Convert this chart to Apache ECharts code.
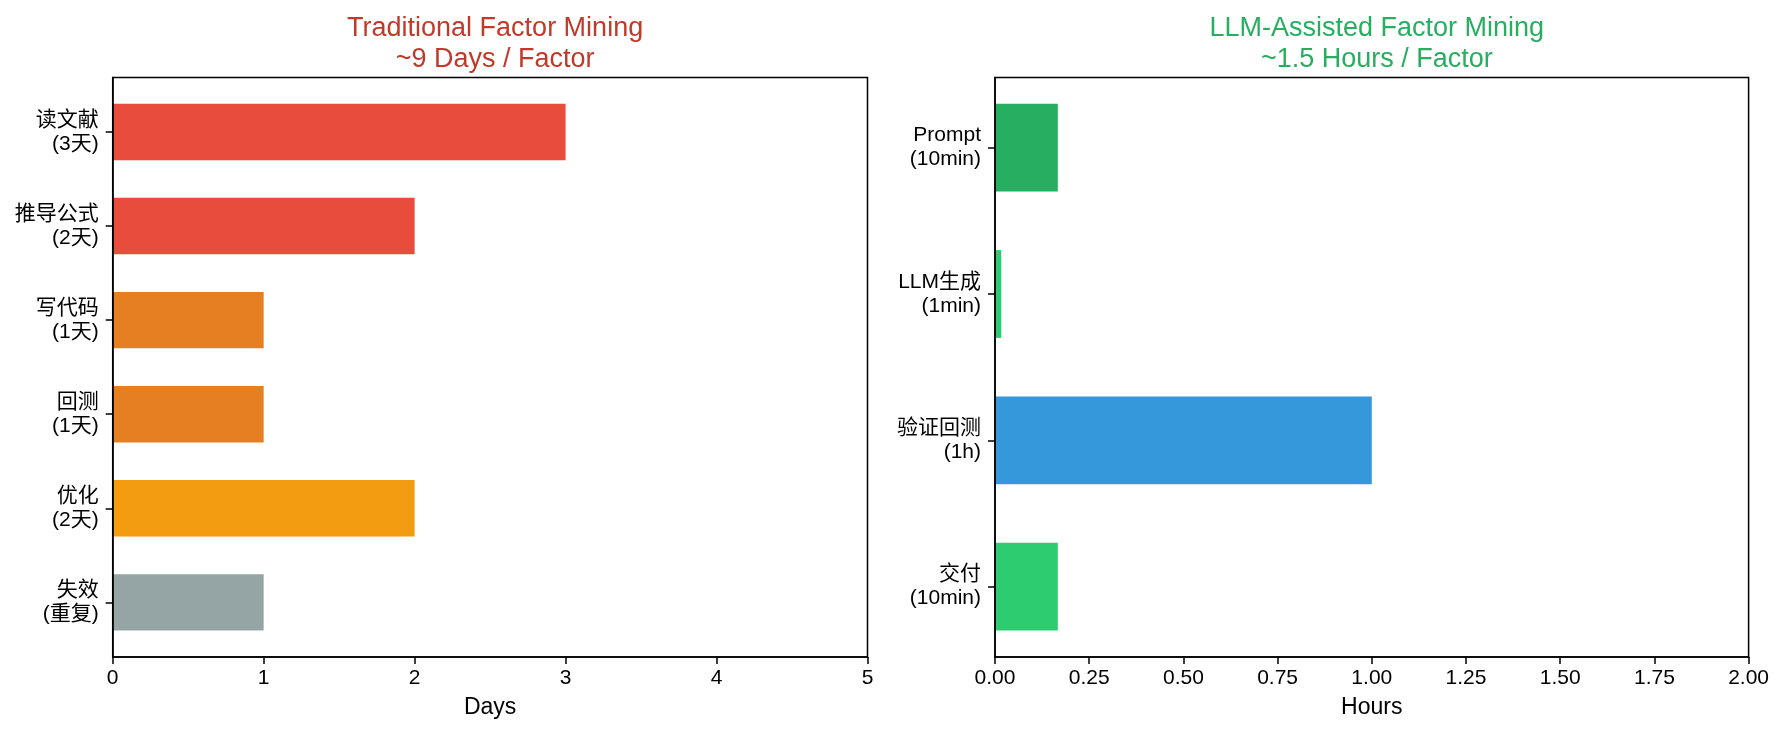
<!DOCTYPE html>
<html>
<head>
<meta charset="utf-8">
<script src="https://cdn.jsdelivr.net/npm/echarts@6/dist/echarts.min.js"></script>
<style>
  html, body { margin: 0; padding: 0; background: #fff; }
  #chart { width: 1785px; height: 735px; }
</style>
</head>
<body>
<div id="chart"></div>
<script>
// 传统方式：每一步耗时（天）
const tradCats = ['读文献\n(3天)', '推导公式\n(2天)', '写代码\n(1天)', '回测\n(1天)', '优化\n(2天)', '失效\n(重复)'];
const tradDays = [3, 2, 1, 1, 2, 1];
// LLM 辅助：每一步耗时（小时）
const llmCats = ['Prompt\n(10min)', 'LLM生成\n(1min)', '验证回测\n(1h)', '交付\n(10min)'];
const llmHours = [0.1667, 0.0167, 1, 0.1667];
const dayTicks = [0, 5, 1];      // min, max, interval
const hourTicks = [0, 2, 0.25];

// 颜色
const tradColors = ['#e74c3c', '#e74c3c', '#e67e22', '#e67e22', '#f39c12', '#95a5a6'];
const llmColors = ['#27ae60', '#2ecc71', '#3498db', '#2ecc71'];

const FONT = '"Liberation Sans", Arial, "Noto Sans CJK SC", sans-serif';

// 左右两个面板的外框位置
const L = { left: 112.7, right: 1785 - 867.5 };
const R = { left: 995, right: 1785 - 1748.6 };
const FRAME_TOP = 77.4, FRAME_H = 579.5;

const frameX = (ticks, fmt, name) => ({
    type: 'value', min: ticks[0], max: ticks[1], interval: ticks[2],
    name: name, nameLocation: 'middle', nameGap: 39,
    nameTextStyle: { color: '#000', fontSize: 23, fontFamily: FONT },
    axisLine: { show: true, lineStyle: { color: '#000', width: 1.5 } },
    axisTick: { show: true, length: 7, lineStyle: { color: '#000', width: 1.5 } },
    axisLabel: { color: '#000', fontSize: 21, fontFamily: FONT, margin: 11, formatter: fmt },
    splitLine: { show: false }
});
const hiddenX = (ticks) => ({
    type: 'value', min: ticks[0], max: ticks[1], interval: ticks[2], show: false
});
const catY = (cats) => ({
    type: 'category', data: cats, inverse: true,
    axisLine: { show: false },
    axisTick: { show: true, alignWithLabel: true, length: 7, lineStyle: { color: '#000', width: 1.5 } },
    axisLabel: { color: '#000', fontSize: 21, lineHeight: 24, fontFamily: FONT, margin: 14, align: 'right', padding: [4, 0, 0, 0] }
});
const frameY = () => ({
    type: 'value', min: 0, max: 1, z: 10,
    axisLine: { show: true, lineStyle: { color: '#000', width: 1.5 } },
    axisTick: { show: false }, axisLabel: { show: false }, splitLine: { show: false }
});

let myChart = echarts.init(document.getElementById('chart'));
let option = {
    backgroundColor: '#fff',
    animation: false,
    title: [
        {
            text: 'Traditional Factor Mining\n~9 Days / Factor',
            left: (L.left + 867.5) / 2, top: 8, textAlign: 'center',
            textStyle: { color: '#c0392b', fontSize: 27, lineHeight: 31, fontWeight: 'normal', fontFamily: FONT }
        },
        {
            text: 'LLM-Assisted Factor Mining\n~1.5 Hours / Factor',
            left: (R.left + 1748.6) / 2, top: 8, textAlign: 'center',
            textStyle: { color: '#27ae60', fontSize: 27, lineHeight: 31, fontWeight: 'normal', fontFamily: FONT }
        }
    ],
    grid: [
        // 外框 + x轴
        { left: L.left, right: L.right, top: FRAME_TOP, height: FRAME_H, show: true, borderColor: '#000', borderWidth: 1.5, z: 5 },
        { left: R.left, right: R.right, top: FRAME_TOP, height: FRAME_H, show: true, borderColor: '#000', borderWidth: 1.5, z: 5 },
        // 柱子所在网格（匹配 matplotlib 的边距）
        { left: L.left, right: L.right, top: 84.93, height: 564.5 },
        { left: R.left, right: R.right, top: 74.47, height: 585.4 }
    ],
    xAxis: [
        Object.assign(frameX(dayTicks, v => v, 'Days'), { gridIndex: 0 }),
        Object.assign(frameX(hourTicks, v => v.toFixed(2), 'Hours'), { gridIndex: 1 }),
        Object.assign(hiddenX(dayTicks), { gridIndex: 2 }),
        Object.assign(hiddenX(hourTicks), { gridIndex: 3 })
    ],
    yAxis: [
        Object.assign(frameY(), { gridIndex: 0 }),
        Object.assign(frameY(), { gridIndex: 1 }),
        Object.assign(catY(tradCats), { gridIndex: 2 }),
        Object.assign(catY(llmCats), { gridIndex: 3 })
    ],
    series: [
        {
            type: 'bar', xAxisIndex: 2, yAxisIndex: 2, barWidth: '60%',
            data: tradDays.map((v, i) => ({ value: v, itemStyle: { color: tradColors[i] } }))
        },
        {
            type: 'bar', xAxisIndex: 3, yAxisIndex: 3, barWidth: '60%',
            data: llmHours.map((v, i) => ({ value: v, itemStyle: { color: llmColors[i] } }))
        }
    ]
};
myChart.setOption(option);
</script>
</body>
</html>
